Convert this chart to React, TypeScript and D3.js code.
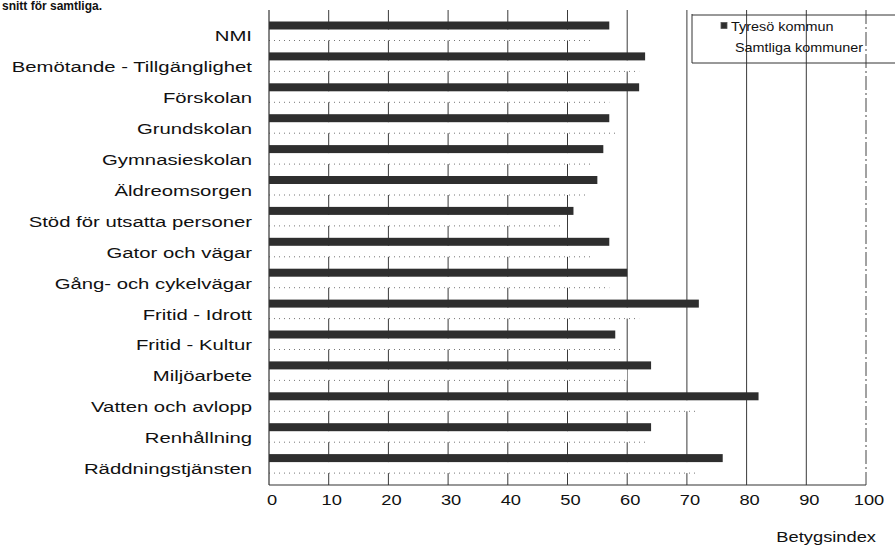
import React from "react";
import * as d3 from "d3";

const categories = [
  "NMI",
  "Bemötande - Tillgänglighet",
  "Förskolan",
  "Grundskolan",
  "Gymnasieskolan",
  "Äldreomsorgen",
  "Stöd för utsatta personer",
  "Gator och vägar",
  "Gång- och cykelvägar",
  "Fritid - Idrott",
  "Fritid - Kultur",
  "Miljöarbete",
  "Vatten och avlopp",
  "Renhållning",
  "Räddningstjänsten",
];
const tyreso = [57, 63, 62, 57, 56, 55, 51, 57, 60, 72, 58, 64, 82, 64, 76];
const samtliga = [54, 62, 57, 58, 54, 53, 49, 54, 57, 62, 59, 60, 72, 63, 72];
const ticks = [0, 10, 20, 30, 40, 50, 60, 70, 80, 90, 100];
const seriesNames = ["Tyresö kommun", "Samtliga kommuner"];

const W = 895;
const H = 545;
const FONT = "'Liberation Sans', Arial, sans-serif";

export default function App() {
  const x = d3.scaleLinear().domain([0, 100]).range([269, 866]);
  const y = d3.scaleBand<string>().domain(categories).range([20.5, 484]).padding(0);
  const top = 10;
  const bottom = 485;

  return (
    <svg
      width={W}
      height={H}
      style={{ position: "absolute", left: 0, top: 0, background: "#fff" }}
      fontFamily={FONT}
    >
      <text x={2} y={10} fontSize={12} fontWeight="bold" fill="#111">
        snitt för samtliga.
      </text>

      {/* gridlines */}
      {ticks.slice(1, -1).map((t) => (
        <line key={"g" + t} x1={x(t)} x2={x(t)} y1={top} y2={bottom} stroke="#3a3a3a" strokeWidth={1} />
      ))}
      <line x1={x(100)} x2={x(100)} y1={top} y2={bottom} stroke="#444" strokeWidth={1} strokeDasharray="14 3 2 3" />

      {/* bars */}
      {categories.map((c, i) => {
        const y0 = y(c)!;
        return (
          <g key={c}>
            <rect x={x(0)} y={y0 + 9} width={x(samtliga[i]) - x(0)} height={11} fill="#fff" />
            <line
              x1={x(0)}
              x2={x(samtliga[i])}
              y1={y0 + 20}
              y2={y0 + 20}
              stroke="#777"
              strokeWidth={1}
              strokeDasharray="1 4"
            />
            <rect x={x(0)} y={y0 + 1} width={x(tyreso[i]) - x(0)} height={8} fill="#2e2e2e" />
          </g>
        );
      })}

      {/* axes */}
      <line x1={x(0)} x2={x(0)} y1={top} y2={bottom} stroke="#333" strokeWidth={1.2} />
      <line x1={x(0)} x2={x(100)} y1={bottom} y2={bottom} stroke="#333" strokeWidth={1.2} />

      {/* category labels */}
      {categories.map((c) => (
        <text
          key={"l" + c}
          transform={`translate(252, ${y(c)! + y.bandwidth() / 2 + 5.5}) scale(1.31,1)`}
          textAnchor="end"
          fontSize={15.5}
          fill="#111"
        >
          {c}
        </text>
      ))}

      {/* tick labels */}
      {ticks.map((t) => (
        <text
          key={"t" + t}
          transform={`translate(${x(t) + 3}, 505) scale(1.18,1)`}
          textAnchor="middle"
          fontSize={15.5}
          fill="#111"
        >
          {t}
        </text>
      ))}
      <text transform={`translate(876, 542) scale(1.22,1)`} textAnchor="end" fontSize={15} fill="#111">
        Betygsindex
      </text>

      {/* legend */}
      <line x1={692} x2={692} y1={14} y2={63} stroke="#333" />
      <line x1={692} x2={895} y1={15} y2={15} stroke="#333" />
      <line x1={692} x2={895} y1={63} y2={63} stroke="#333" />
      <rect x={721} y={22.5} width={6} height={6} fill="#2e2e2e" stroke="#555" strokeWidth={0.8} />
      <text transform={`translate(731, 31) scale(1.2,1)`} fontSize={12} fill="#111">
        {seriesNames[0]}
      </text>
      <text transform={`translate(735, 52) scale(1.2,1)`} fontSize={12} fill="#111">
        {seriesNames[1]}
      </text>
    </svg>
  );
}
